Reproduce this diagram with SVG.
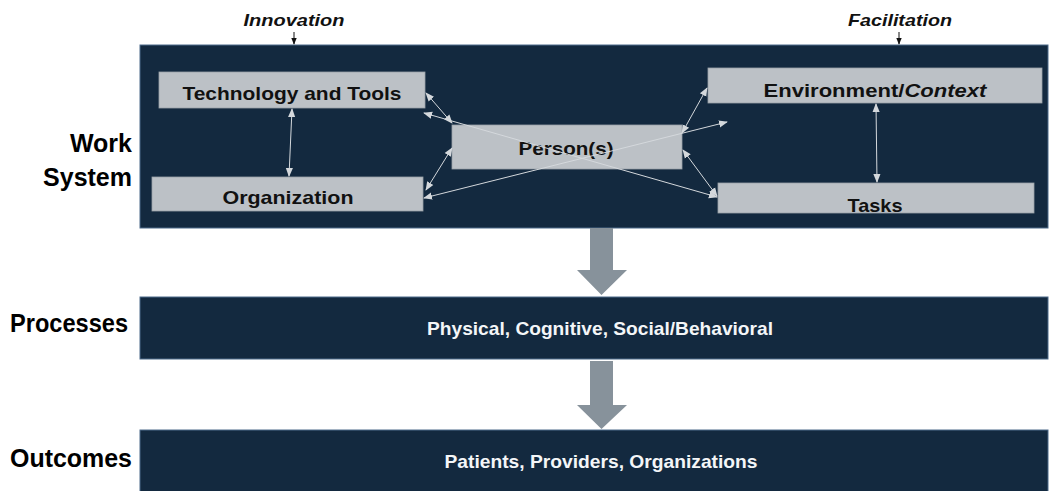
<svg xmlns="http://www.w3.org/2000/svg" width="1049" height="491" viewBox="0 0 1049 491">
  <style>
    .band { fill: #13293f; stroke: #4d6a8a; stroke-width: 1; }
    .node { fill: #bcc1c6; stroke: #9aa1a8; stroke-width: 0.8; }
    .ntext { font-family: "Liberation Sans", Arial, sans-serif; font-weight: bold; font-size: 19px; fill: #111; text-anchor: middle; }
    .side { font-family: "Liberation Sans", Arial, sans-serif; font-weight: bold; font-size: 25px; fill: #000; }
    .btext { font-family: "Liberation Sans", Arial, sans-serif; font-weight: bold; font-size: 19px; fill: #f4f6f8; text-anchor: middle; }
    .top { font-family: "Liberation Sans", Arial, sans-serif; font-weight: bold; font-style: italic; font-size: 17px; fill: #111; text-anchor: middle; }
    .link { stroke: #d4d8dc; stroke-width: 1; fill: none; marker-start: url(#ah); marker-end: url(#ah); }
    .drop { fill: #87929b; }
  </style>
  <defs>
    <marker id="ah" viewBox="0 0 10 10" refX="9" refY="5" markerWidth="9" markerHeight="9" markerUnits="userSpaceOnUse" orient="auto-start-reverse">
      <path d="M0,1 L10,5 L0,9 z" fill="#d4d8dc"/>
    </marker>
    <marker id="bk" viewBox="0 0 10 10" refX="9" refY="5" markerWidth="7" markerHeight="7" markerUnits="userSpaceOnUse" orient="auto">
      <path d="M0,1 L10,5 L0,9 z" fill="#111"/>
    </marker>
  </defs>

  <rect width="1049" height="491" fill="#ffffff"/>

  <!-- Row labels -->
  <g id="labels">
    <text class="side" x="132" y="152" text-anchor="end">Work</text>
    <text class="side" x="132" y="186" text-anchor="end">System</text>
    <text class="side" x="10" y="332" textLength="118" lengthAdjust="spacingAndGlyphs">Processes</text>
    <text class="side" x="10" y="467" textLength="122" lengthAdjust="spacingAndGlyphs">Outcomes</text>
  </g>

  <!-- Work system band -->
  <g id="work-system">
    <rect class="band" x="140" y="45" width="908" height="183"/>
  </g>

  <!-- Influences entering the work system -->
  <g id="innovation">
    <text class="top" x="294" y="26" textLength="101" lengthAdjust="spacingAndGlyphs">Innovation</text>
    <line x1="294" y1="32" x2="294" y2="44" stroke="#111" stroke-width="1" marker-end="url(#bk)"/>
  </g>
  <g id="facilitation">
    <text class="top" x="900" y="26" textLength="104" lengthAdjust="spacingAndGlyphs">Facilitation</text>
    <line x1="899" y1="32" x2="899" y2="44" stroke="#111" stroke-width="1" marker-end="url(#bk)"/>
  </g>

  <!-- Work system components -->
  <g id="tech">
    <rect class="node" x="159" y="72" width="266" height="36"/>
    <text class="ntext" x="292" y="100" textLength="219" lengthAdjust="spacingAndGlyphs">Technology and Tools</text>
  </g>
  <g id="organization">
    <rect class="node" x="152" y="177" width="271" height="34"/>
    <text class="ntext" x="288" y="204" textLength="131" lengthAdjust="spacingAndGlyphs">Organization</text>
  </g>
  <g id="person">
    <rect class="node" x="452" y="125" width="230" height="44"/>
    <text class="ntext" x="566" y="155" textLength="95" lengthAdjust="spacingAndGlyphs">Person(s)</text>
  </g>
  <g id="environment">
    <rect class="node" x="708" y="68" width="334" height="35"/>
    <text class="ntext" x="875" y="97" textLength="223" lengthAdjust="spacingAndGlyphs">Environment/<tspan font-style="italic">Context</tspan></text>
  </g>
  <g id="tasks">
    <rect class="node" x="718" y="183" width="316" height="30"/>
    <text class="ntext" x="875" y="212" textLength="55" lengthAdjust="spacingAndGlyphs">Tasks</text>
  </g>

  <!-- Interactions between components -->
  <g id="connectors">
    <line class="link" x1="292" y1="109" x2="289" y2="176"/>
    <line class="link" x1="452" y1="123" x2="426" y2="93"/>
    <line class="link" x1="452" y1="148" x2="426" y2="190"/>
    <line class="link" x1="424" y1="113" x2="717" y2="197"/>
    <line class="link" x1="424" y1="198" x2="727" y2="122"/>
    <line class="link" x1="682" y1="133" x2="707" y2="88"/>
    <line class="link" x1="683" y1="150" x2="717" y2="196"/>
    <line class="link" x1="876" y1="104" x2="877" y2="182"/>
  </g>

  <!-- Flow from work system to processes -->
  <g id="flow-1">
    <path class="drop" d="M590,228 H613 V270 H627 L601.5,295 L577,270 H590 Z"/>
  </g>

  <!-- Processes band -->
  <g id="processes">
    <rect class="band" x="140" y="297" width="908" height="62"/>
    <text class="btext" x="600" y="335" textLength="346" lengthAdjust="spacingAndGlyphs">Physical, Cognitive, Social/Behavioral</text>
  </g>

  <!-- Flow from processes to outcomes -->
  <g id="flow-2">
    <path class="drop" d="M590,361 H613 V405 H627 L601.5,429 L577,405 H590 Z"/>
  </g>

  <!-- Outcomes band -->
  <g id="outcomes">
    <rect class="band" x="140" y="430" width="908" height="65"/>
    <text class="btext" x="601" y="468" textLength="313" lengthAdjust="spacingAndGlyphs">Patients, Providers, Organizations</text>
  </g>
</svg>
